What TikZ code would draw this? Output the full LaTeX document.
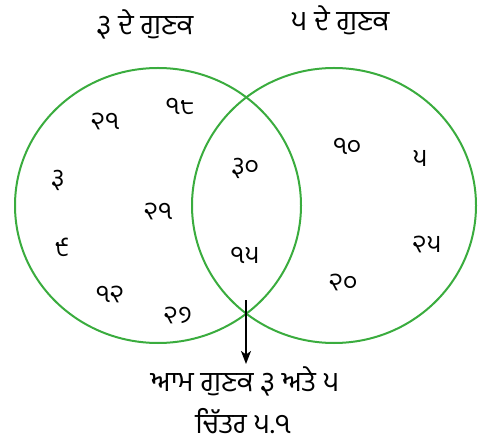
\documentclass[tikz,border=0pt]{standalone}
\usepackage{fontspec}
\newfontfamily\gurfont[Script=Gurmukhi]{Hind Jalandhar}
\usetikzlibrary{arrows.meta}
\definecolor{venngreen}{RGB}{58,172,62}
\tikzset{
  vennset/.style={draw=venngreen, line width=2pt},
  numlabel/.style={font=\gurfont\fontsize{25}{28}\selectfont, inner sep=0pt, anchor=base},
  titlelabel/.style={font=\gurfont\fontsize{28}{32}\selectfont, inner sep=0pt, anchor=base},
  pointer/.style={draw=black, line width=1.6pt, -{Stealth[length=13pt,width=10pt,inset=3.5pt]}}
}
\begin{document}
\begin{tikzpicture}[x=1pt,y=-1pt]
\useasboundingbox (0,0) rectangle (481,443);
% sets
\draw[vennset] (158,205.5) ellipse [x radius=143, y radius=137.5];
\draw[vennset] (334,205.5) ellipse [x radius=142, y radius=137.5];
% titles
\node[titlelabel] (t3) at (145,35) {੩ ਦੇ ਗੁਣਕ};
\node[titlelabel] (t5) at (340,31) {੫ ਦੇ ਗੁਣਕ};
% left only
\node[numlabel] (a21) at (105,130) {੨੧};
\node[numlabel] (a18) at (180,115) {੧੮};
\node[numlabel] (a3) at (58,187) {੩};
\node[numlabel] (b21) at (158,220) {੨੧};
\node[numlabel] (a9) at (62,257) {੯};
\node[numlabel] (a12) at (110,302) {੧੨};
\node[numlabel] (a27) at (178,323) {੨੭};
% common
\node[numlabel] (c30) at (245,175) {੩੦};
\node[numlabel] (c15) at (245,263) {੧੫};
% right only
\node[numlabel] (d10) at (347,155) {੧੦};
\node[numlabel] (d5) at (420,167) {੫};
\node[numlabel] (d25) at (427,253) {੨੫};
\node[numlabel] (d20) at (343,290) {੨੦};
% pointer
\coordinate (ptop) at (246,300);
\coordinate (pend) at (246,364);
\draw[pointer] (ptop) -- (pend);
\node[titlelabel] (common) at (245,391) {ਆਮ ਗੁਣਕ ੩ ਅਤੇ ੫};
\node[titlelabel, text depth=0pt] (fig) at (243,433) {ਚਿੱਤਰ ੫.੧};
\end{tikzpicture}
\end{document}
